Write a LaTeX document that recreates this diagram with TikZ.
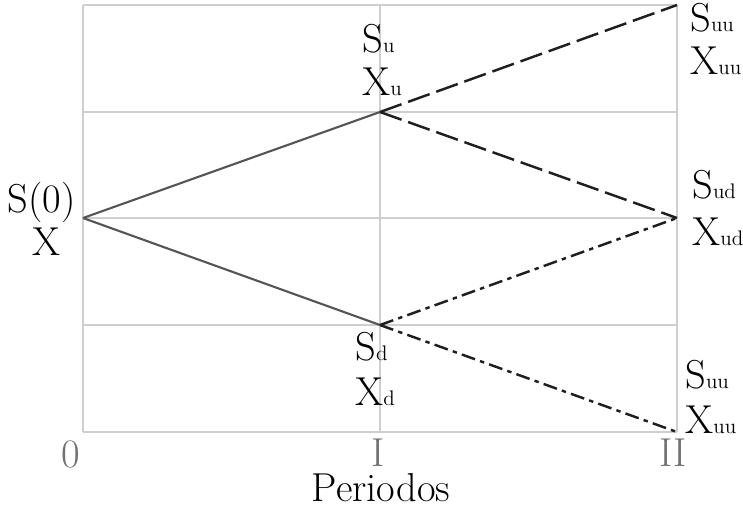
\documentclass[tikz,border=0pt]{standalone}
\usepackage{tikz}
\usetikzlibrary{calc}
\definecolor{treegray}{HTML}{555555}
\definecolor{gridgray}{HTML}{CFCFCF}
\definecolor{tickgray}{HTML}{707070}
\newcommand{\lo}[1]{{\fontsize{12}{14}\selectfont #1}}

\begin{document}
\begin{tikzpicture}[
    x=0.02cm, y=-0.02cm,
    every node/.style={font=\fontsize{23}{27}\selectfont, inner sep=0pt},
    gridline/.style={draw=gridgray, line width=0.6pt},
    solidline/.style={draw=treegray, line width=1.2pt},
    dashline/.style={draw=black!88, line width=1.4pt, dash pattern=on 13pt off 4pt},
    dotline/.style={draw=black!88, line width=1.4pt, dash pattern=on 8pt off 3pt on 2.5pt off 3pt},
    lbl/.style={anchor=base west},
    tick/.style={anchor=base, text=tickgray}
]
    \useasboundingbox (0,0) rectangle (743,512);

    % grid
    \foreach \y in {5,112,218,325,432}
        \draw[gridline] (83,\y) -- (677,\y);
    \foreach \x in {83,380,677}
        \draw[gridline] (\x,5) -- (\x,432);

    \coordinate (s0) at (83,218);
    \coordinate (su) at (380,112);
    \coordinate (sd) at (380,325);
    \coordinate (suu) at (677,5);
    \coordinate (sud) at (677,218);
    \coordinate (sdd) at (677,432);

    \draw[solidline] (s0) -- (su);
    \draw[solidline] (s0) -- (sd);
    \draw[dashline] (su) -- (suu);
    \draw[dashline] (su) -- (sud);
    \draw[dotline] (sd) -- (sud);
    \draw[dotline] (sd) -- (sdd);

    % labels
    \node[anchor=base east] (ls0) at (76,212) {S(0)};
    \node[anchor=base] (lx0) at (47,255) {X};
    \node[lbl] (lsu) at (362,52) {S\lo{u}};
    \node[lbl] (lxu) at (362,95) {X\lo{u}};
    \node[lbl] (lsuu) at (690,31) {S\lo{uu}};
    \node[lbl] (lxuu) at (690,74) {X\lo{uu}};
    \node[lbl] (lsud) at (692,198) {S\lo{ud}};
    \node[lbl] (lxud) at (692,245) {X\lo{ud}};
    \node[lbl] (lsd) at (355,360) {S\lo{d}};
    \node[lbl] (lxd) at (355,405) {X\lo{d}};
    \node[lbl] (lsdd) at (685,388) {S\lo{uu}};
    \node[lbl] (lxdd) at (685,433) {X\lo{uu}};

    \node[tick] (t0) at (71,467) {0};
    \node[tick] (t1) at (378,466) {I};
    \node[tick] (t2) at (673,466) {II};
    \node[anchor=base] (per) at (381,501) {Periodos};
\end{tikzpicture}
\end{document}
